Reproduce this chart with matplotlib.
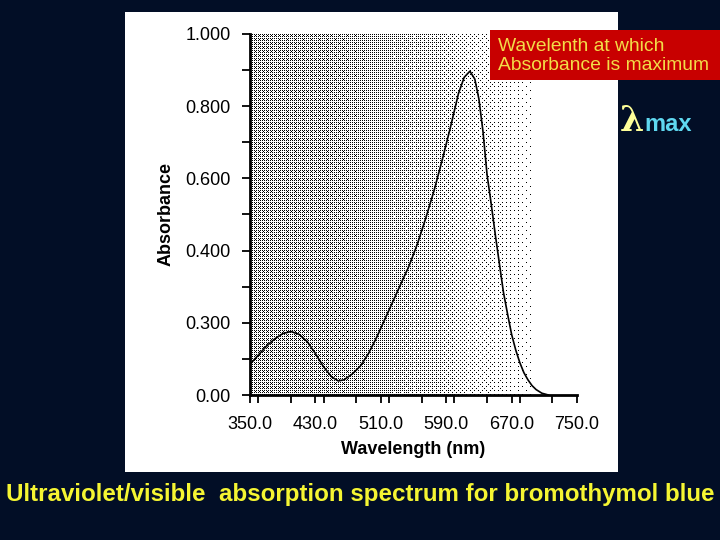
import numpy as np
import matplotlib
matplotlib.use("Agg")
import matplotlib.pyplot as plt
from matplotlib.patches import Rectangle
from matplotlib.ticker import MultipleLocator

plt.rcParams['font.family'] = ['Liberation Sans', 'DejaVu Sans']

# Spectrum (nm, absorbance)
wavelength = [350, 360, 370, 380, 390, 400, 410, 420, 430, 440, 450, 458, 465,
              475, 485, 495, 505, 515, 525, 535, 545, 555, 565, 575, 585, 595,
              605, 612, 619, 625, 630, 635, 640, 645, 650, 655, 660, 665, 670,
              675, 680, 685, 690, 695, 700, 707, 715]
absorbance = [0.085, 0.11, 0.135, 0.155, 0.17, 0.176, 0.168, 0.148, 0.115,
              0.078, 0.05, 0.039, 0.042, 0.058, 0.08, 0.115, 0.16, 0.21, 0.26,
              0.31, 0.36, 0.42, 0.49, 0.565, 0.65, 0.74, 0.835, 0.88, 0.897,
              0.875, 0.82, 0.73, 0.61, 0.53, 0.445, 0.365, 0.285, 0.225, 0.168,
              0.125, 0.09, 0.062, 0.042, 0.026, 0.015, 0.005, 0.0]

x_ticks = [350, 430, 510, 590, 670, 750]
x_labels = ['350.0', '430.0', '510.0', '590.0', '670.0', '750.0']
y_ticks = [0.0, 0.2, 0.4, 0.6, 0.8, 1.0]
y_labels = ['0.00', '0.300', '0.400', '0.600', '0.800', '1.000']

navy = '#020e26'
W, H = 720, 540

fig = plt.figure(figsize=(7.2, 5.4), dpi=100, facecolor=navy)

# white panel behind the chart
fig.add_artist(Rectangle((125 / W, 1 - 472 / H), 493 / W, 460 / H,
                         transform=fig.transFigure, facecolor='white',
                         edgecolor='none', zorder=0))

ax_l, ax_r, ax_t, ax_b = 250, 577, 34, 395
ax = fig.add_axes([ax_l / W, 1 - ax_b / H, (ax_r - ax_l) / W, (ax_b - ax_t) / H])
ax.set_facecolor('white')

# stippled background: ordered dither of a left-to-right fade
def bayer(n):
    m = np.array([[0, 2], [3, 1]])
    while m.shape[0] < n:
        m = np.block([[4 * m, 4 * m + 2], [4 * m + 3, 4 * m + 1]])
    return (m + 0.5) / m.size

pw, ph = ax_r - ax_l, ax_b - ax_t
xs = np.linspace(350, 750, pw)
fade = np.interp(xs, [350, 450, 520, 580, 620, 660, 690, 697],
                 [0.31, 0.29, 0.24, 0.18, 0.11, 0.07, 0.035, 0.0])
b = bayer(8)
thr = np.tile(b, (ph // 8 + 1, pw // 8 + 1))[:ph, :pw]
dots = (fade[None, :] > thr).astype(float)
ax.imshow(dots, cmap='gray_r', vmin=0, vmax=1, extent=[350, 750, 0, 1],
          aspect='auto', interpolation='nearest', zorder=0)

ax.plot(wavelength, absorbance, color='black', lw=1.2, zorder=2)

ax.set_xlim(350, 750)
ax.set_ylim(0, 1)
for s in ['top', 'right']:
    ax.spines[s].set_visible(False)
for s in ['left', 'bottom']:
    ax.spines[s].set_linewidth(2.0)
    ax.spines[s].set_zorder(3)

ax.set_xticks(x_ticks)
ax.set_xticklabels(x_labels)
ax.xaxis.set_minor_locator(MultipleLocator(40))
ax.set_yticks(y_ticks)
ax.set_yticklabels(y_labels)
ax.yaxis.set_minor_locator(MultipleLocator(0.1))
ax.tick_params(which='both', direction='out', length=6, width=1.3, color='black')
ax.tick_params(axis='x', labelsize=13, pad=9)
ax.tick_params(axis='y', labelsize=13, pad=8)

ax.set_xlabel('Wavelength (nm)', fontsize=13, fontweight='bold', labelpad=6)
ax.set_ylabel('Absorbance', fontsize=13, fontweight='bold', labelpad=8)

# red call-out box
fig.add_artist(Rectangle((490 / W, 1 - 80 / H), 230 / W, 50 / H,
                         transform=fig.transFigure, facecolor='#c80000',
                         edgecolor='none', zorder=5))
fig.text(498 / W, 1 - 56 / H, 'Wavelenth at which\nAbsorbance is maximum',
         color='#f2dc48', fontsize=13.9, ha='left', va='center',
         linespacing=1.15, zorder=6)

lam = fig.text(620 / W, 1 - 131 / H, 'λ', color='#ffff99', fontsize=25,
               fontweight='bold', family=['DejaVu Serif'],
               ha='left', va='baseline')
fig.canvas.draw()
lam_right = lam.get_window_extent().x1
fig.text(lam_right / W, 1 - 131 / H, 'max', color='#5fd8f0', fontsize=17,
         fontweight='bold', ha='left', va='baseline')

fig.text(360 / W, 1 - 494 / H,
         'Ultraviolet/visible  absorption spectrum for bromothymol blue',
         color='#f5f532', fontsize=17.4, fontweight='bold', ha='center',
         va='center')

fig.savefig('out.png', dpi=100, facecolor=navy)
